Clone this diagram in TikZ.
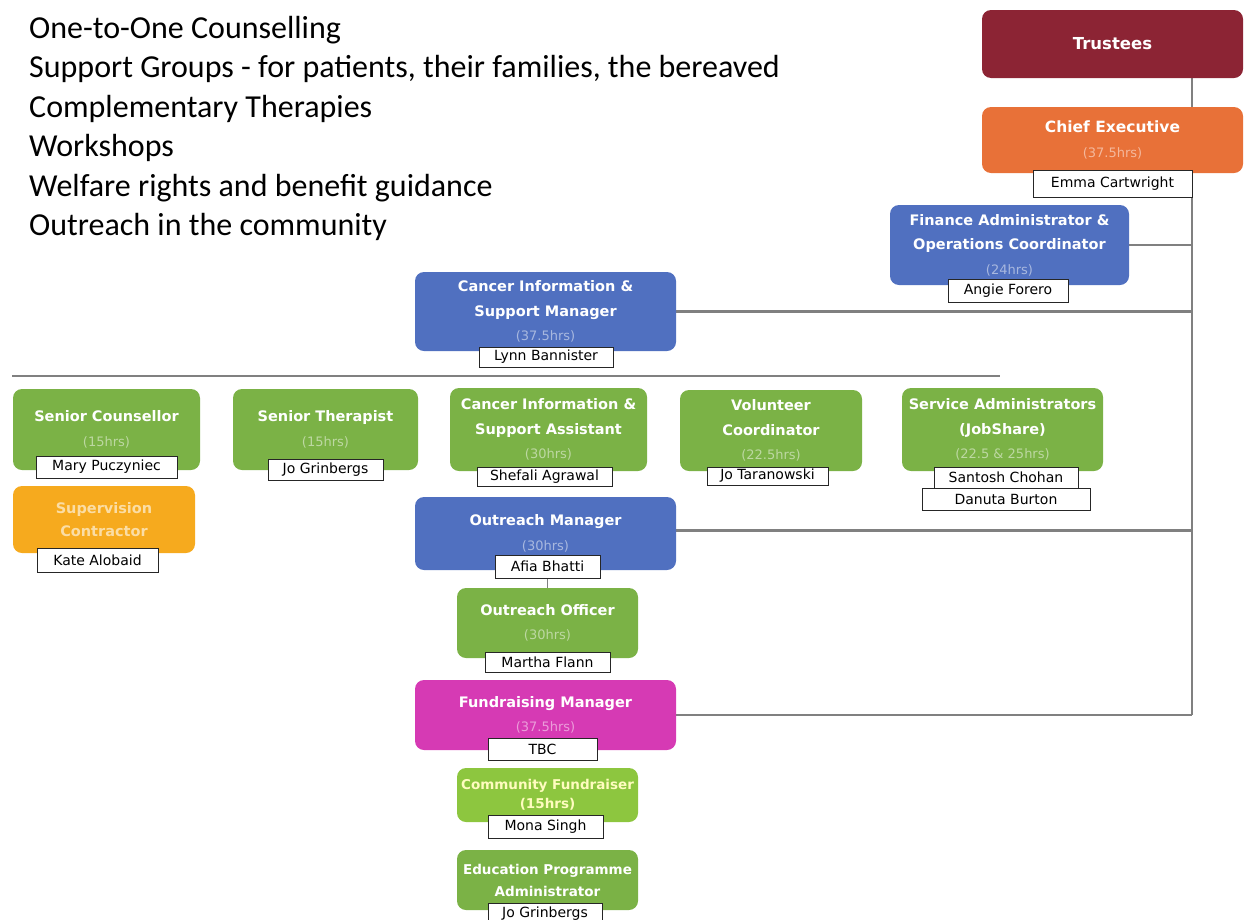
\documentclass[tikz,border=0pt]{standalone}
\usepackage{fontspec}
\setmainfont{DejaVu Sans}
\newfontfamily\listfont{Carlito}
\usepackage{xcolor}
\usepackage{tikz}
\usetikzlibrary{positioning}
\usetikzlibrary{backgrounds}
\definecolor{ctrust}{HTML}{8C2434}
\definecolor{cchief}{HTML}{E87138}
\definecolor{cblue}{HTML}{5070C0}
\definecolor{cgreen}{HTML}{7BB246}
\definecolor{clgreen}{HTML}{8DC63F}
\definecolor{csuper}{HTML}{F6AA1E}
\definecolor{cpink}{HTML}{D63AB4}
\tikzstyle{role}=[draw=none,rounded corners=9pt,align=center,inner sep=0pt,text=white,
  font=\fontsize{14.5}{24.5}\selectfont\bfseries]
\tikzstyle{holder}=[draw=black!85,fill=white,line width=0.8pt,inner sep=0pt,
  font=\fontsize{14}{15}\selectfont]
\tikzstyle{link}=[draw=black!50,line width=2.2pt]
\tikzstyle{svcline}=[anchor=base west,inner sep=0pt,font=\listfont\fontsize{32}{38}\selectfont]
\newcommand{\hrs}[2]{{\fontsize{13}{24.5}\selectfont\mdseries\color{#1!50!white}#2}}

\begin{document}
\begin{tikzpicture}[x=1pt,y=-1pt]
\useasboundingbox (0,0) rectangle (1251,919);
	% services list
	\node[svcline] (svc1) at (29,38.5) {One-to-One Counselling};
	\node[svcline] (svc2) at (29,77.9) {Support Groups - for patients, their families, the bereaved};
	\node[svcline] (svc3) at (29,117.3) {Complementary Therapies};
	\node[svcline] (svc4) at (29,156.7) {Workshops};
	\node[svcline] (svc5) at (29,196.1) {Welfare rights and benefit guidance};
	\node[svcline] (svc6) at (29,235.5) {Outreach in the community};

	% top of the tree
	\node[role,fill=ctrust,minimum width=261pt,minimum height=68pt,
	  font=\fontsize{16.5}{24.5}\selectfont\bfseries] (trust) at (1112.5,44) {Trustees};
	\node[role,fill=cchief,minimum width=261pt,minimum height=66pt,
	  font=\fontsize{15.5}{25}\selectfont\bfseries] (chief) at (1112.5,140)
	  {Chief Executive\\ \hrs{cchief}{(37.5hrs)}};
	\node[role,fill=cblue,minimum width=239pt,minimum height=80pt] (fin) at (1009.5,245)
	  {Finance Administrator \&\\ Operations Coordinator\\ \hrs{cblue}{(24hrs)}};
	\node[role,fill=cblue,minimum width=261pt,minimum height=79pt] (cism) at (545.5,311.5)
	  {Cancer Information \&\\ Support Manager\\ \hrs{cblue}{(37.5hrs)}};

	% services row
	\node[role,fill=cgreen,minimum width=187pt,minimum height=81pt] (sc) at (106.5,429.5)
	  {Senior Counsellor\\ \hrs{cgreen}{(15hrs)}};
	\node[role,fill=cgreen,minimum width=185pt,minimum height=81pt] (st) at (325.5,429.5)
	  {Senior Therapist\\ \hrs{cgreen}{(15hrs)}};
	\node[role,fill=cgreen,minimum width=197pt,minimum height=83pt] (cisa) at (548.5,429.5)
	  {Cancer Information \&\\ Support Assistant\\ \hrs{cgreen}{(30hrs)}};
	\node[role,fill=cgreen,minimum width=182pt,minimum height=81pt] (vol) at (771,430.5)
	  {Volunteer\\ Coordinator\\ \hrs{cgreen}{(22.5hrs)}};
	\node[role,fill=cgreen,minimum width=201pt,minimum height=83pt] (sa) at (1002.5,429.5)
	  {Service Administrators\\ (JobShare)\\ \hrs{cgreen}{(22.5 \& 25hrs)}};
	\node[role,fill=csuper,minimum width=182pt,minimum height=67pt,text=white!60!csuper,
	  font=\fontsize{14.5}{23}\selectfont\bfseries] (sup) at (104,519.5)
	  {Supervision\\ Contractor};

	% outreach and fundraising
	\node[role,fill=cblue,minimum width=261pt,minimum height=73pt] (om) at (545.5,533.5)
	  {Outreach Manager\\ \hrs{cblue}{(30hrs)}};
	\node[role,fill=cgreen,minimum width=181pt,minimum height=70pt] (oo) at (547.5,623)
	  {Outreach Officer\\ \hrs{cgreen}{(30hrs)}};
	\node[role,fill=cpink,minimum width=261pt,minimum height=70pt] (fm) at (545.5,715)
	  {Fundraising Manager\\ \hrs{cpink}{(37.5hrs)}};
	\node[role,fill=clgreen,minimum width=181pt,minimum height=54pt,text=white!75!yellow,
	  font=\fontsize{13.5}{19}\selectfont\bfseries] (cf) at (547.5,795)
	  {Community Fundraiser\\ (15hrs)};
	\node[role,fill=cgreen,minimum width=181pt,minimum height=60pt,
	  font=\fontsize{13.5}{22}\selectfont\bfseries] (epa) at (547.5,880)
	  {Education Programme\\ Administrator};

	% post holders
	\node[holder,minimum width=159pt,minimum height=27pt] (emma) at (1112.5,183.5) {Emma Cartwright};
	\node[holder,minimum width=120pt,minimum height=23pt] (angie) at (1008,290.5) {Angie Forero};
	\node[holder,minimum width=134pt,minimum height=20pt] (lynn) at (546,357) {Lynn Bannister};
	\node[holder,minimum width=141pt,minimum height=22pt] (mary) at (106.5,467) {Mary Puczyniec};
	\node[holder,minimum width=115pt,minimum height=21pt] (jog) at (325.5,469.5) {Jo Grinbergs};
	\node[holder,minimum width=121pt,minimum height=24pt] (kate) at (97.5,560) {Kate Alobaid};
	\node[holder,minimum width=135pt,minimum height=19pt] (shef) at (544.5,476.5) {Shefali Agrawal};
	\node[holder,minimum width=121pt,minimum height=18pt] (jot) at (767.5,476) {Jo Taranowski};
	\node[holder,minimum width=144pt,minimum height=21pt] (sant) at (1006,477.5) {Santosh Chohan};
	\node[holder,minimum width=168pt,minimum height=22pt] (dan) at (1006,499) {Danuta Burton};
	\node[holder,minimum width=105pt,minimum height=23pt] (afia) at (547.5,566.5) {Afia Bhatti};
	\node[holder,minimum width=125pt,minimum height=20pt] (martha) at (547.5,662) {Martha Flann};
	\node[holder,minimum width=109pt,minimum height=22pt] (tbc) at (542.5,749) {TBC};
	\node[holder,minimum width=115pt,minimum height=23pt] (mona) at (545.5,826.5) {Mona Singh};
	\node[holder,minimum width=114pt,minimum height=22pt] (jogb) at (545,914) {Jo Grinbergs};

	\coordinate (tk) at (1192,0);
	\coordinate (sepl) at (12,376);
	\coordinate (sepr) at (1000,376);

	\begin{scope}[on background layer]
	\path[link] (trust.south -| tk) -- (fm.east -| tk);
	\path[link] (fin.east) -- (fin.east -| tk);
	\path[link] (cism.east) -- (cism.east -| tk);
	\path[link] ([yshift=3pt]om.east) -- ([yshift=3pt]om.east -| tk);
	\path[link] (fm.east) -- (fm.east -| tk);
	\path[link] (sepl) -- (sepr);
	\path[draw=black!50,line width=1.2pt] (afia.south) -- (oo.north);
	\end{scope}
\end{tikzpicture}
\end{document}
